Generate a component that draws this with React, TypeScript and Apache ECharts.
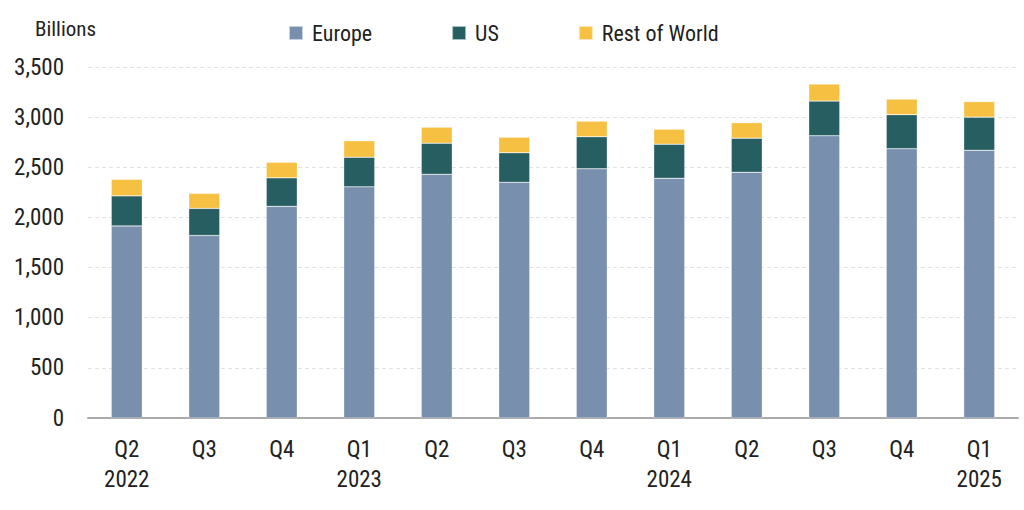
import { useEffect, useRef } from 'react';
import * as echarts from 'echarts';

const quarters = ['Q2\n2022', 'Q3', 'Q4', 'Q1\n2023', 'Q2', 'Q3', 'Q4', 'Q1\n2024', 'Q2', 'Q3', 'Q4', 'Q1\n2025'];
const europe = [1915, 1820, 2110, 2305, 2430, 2350, 2485, 2390, 2450, 2815, 2685, 2670];
const us = [300, 270, 285, 295, 310, 295, 320, 340, 340, 345, 340, 330];
const restOfWorld = [165, 150, 155, 165, 160, 155, 155, 150, 155, 170, 155, 155];

const FONT = '"Liberation Sans Narrow", "Roboto Condensed", "DejaVu Sans Condensed", sans-serif';

export default function App() {
  const chartRef = useRef<HTMLDivElement>(null);

  useEffect(() => {
    if (!chartRef.current) return;
    const chart = echarts.init(chartRef.current, undefined, { renderer: 'svg' });

    const bar = (name: string, data: number[], color: string) => ({
      name,
      type: 'bar' as const,
      stack: 'total',
      data,
      barWidth: 31,
      itemStyle: { color, borderColor: 'rgba(255,255,255,0.6)', borderWidth: 0.5 },
    });

    chart.setOption({
      animation: false,
      textStyle: { fontFamily: FONT },
      title: {
        text: 'Billions',
        left: 30,
        top: 13,
        textStyle: { fontFamily: FONT, fontSize: 21, fontWeight: 'normal', color: '#222' },
      },
      legend: {
        left: 283,
        top: 17,
        itemWidth: 14,
        itemHeight: 14,
        itemGap: 79,
        icon: 'rect',
        textStyle: { fontFamily: FONT, fontSize: 22, color: '#222', padding: [0, 0, 0, 4] },
        data: ['Europe', 'US', 'Rest of World'],
      },
      grid: { left: 88, right: 6, top: 67, bottom: 92 },
      xAxis: {
        type: 'category',
        data: quarters,
        axisLine: { lineStyle: { color: '#aaa', width: 2 } },
        axisTick: { show: false },
        axisLabel: {
          margin: 16,
          fontFamily: FONT,
          fontSize: 23,
          lineHeight: 30,
          color: '#222',
        },
      },
      yAxis: {
        type: 'value',
        min: 0,
        max: 3500,
        interval: 500,
        axisLine: { show: false },
        axisTick: { show: false },
        axisLabel: {
          margin: 24,
          fontFamily: FONT,
          fontSize: 23,
          color: '#222',
          formatter: (v: number) => v.toLocaleString('en-US'),
        },
        splitLine: { lineStyle: { color: '#e2e2e2', type: [4, 3], width: 1 } },
      },
      series: [
        bar('Europe', europe, '#788fae'),
        bar('US', us, '#265e62'),
        bar('Rest of World', restOfWorld, '#f6c142'),
      ],
    });

    return () => {
      chart.dispose();
    };
  }, []);

  return (
    <div
      ref={chartRef}
      style={{ position: 'fixed', left: 0, top: 0, width: '1024px', height: '510px', background: '#fff' }}
    />
  );
}
